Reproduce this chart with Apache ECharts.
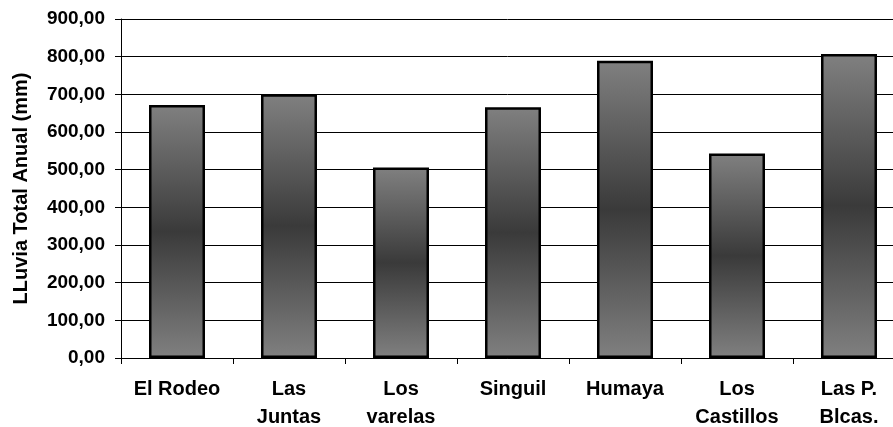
<!DOCTYPE html>
<html>
<head>
<meta charset="utf-8">
<script src="https://cdn.jsdelivr.net/npm/echarts@6/dist/echarts.min.js"></script>
<style>
html,body{margin:0;padding:0;background:#fff;}
#c{width:893px;height:427px;}
</style>
</head>
<body>
<div id="c"></div>
<script>
const categories = ['El Rodeo', 'Las\nJuntas', 'Los\nvarelas', 'Singuil', 'Humaya', 'Los\nCastillos', 'Las P.\nBlcas.'];
const rainfall = [672, 700, 506, 666, 789, 543, 807];
const yAxisName = 'LLuvia Total Anual (mm)';
const yMin = 0, yMax = 900, yStep = 100;

const chart = echarts.init(document.getElementById('c'), null, {renderer: 'canvas'});
const font = '"Liberation Sans", Arial, sans-serif';
chart.setOption({
  animation: false,
  backgroundColor: '#ffffff',
  grid: {left: 121, top: 19, width: 784, height: 339, containLabel: false, outerBoundsMode: 'none'},
  xAxis: {
    type: 'category',
    data: categories,
    boundaryGap: true,
    axisLine: {show: true, lineStyle: {color: '#000', width: 1}},
    axisTick: {show: true, alignWithLabel: false, length: 6, lineStyle: {color: '#000'}},
    axisLabel: {
      interval: 0, margin: 17, color: '#000', fontFamily: font,
      fontWeight: 'bold', fontSize: 20, lineHeight: 28
    },
    splitLine: {show: false}
  },
  yAxis: {
    type: 'value',
    min: yMin, max: yMax, interval: yStep,
    name: yAxisName,
    nameLocation: 'middle',
    nameGap: 90,
    nameRotate: 90,
    nameTextStyle: {color: '#000', fontFamily: font, fontWeight: 'bold', fontSize: 20},
    axisLine: {show: true, lineStyle: {color: '#000', width: 1}},
    axisTick: {show: true, length: 6, lineStyle: {color: '#000'}},
    axisLabel: {
      margin: 16, color: '#000', fontFamily: font, fontWeight: 'bold', fontSize: 19,
      formatter: v => v.toFixed(2).replace('.', ',')
    },
    splitLine: {show: true, lineStyle: {color: '#000', width: 1}}
  },
  series: [{
    type: 'bar',
    data: rainfall,
    barWidth: '50%',
    itemStyle: {
      borderColor: '#000',
      borderWidth: 2.5,
      color: new echarts.graphic.LinearGradient(0, 0, 0, 1, [
        {offset: 0, color: '#808080'},
        {offset: 0.5, color: '#3a3a3a'},
        {offset: 1, color: '#808080'}
      ])
    }
  }]
});
</script>
</body>
</html>
